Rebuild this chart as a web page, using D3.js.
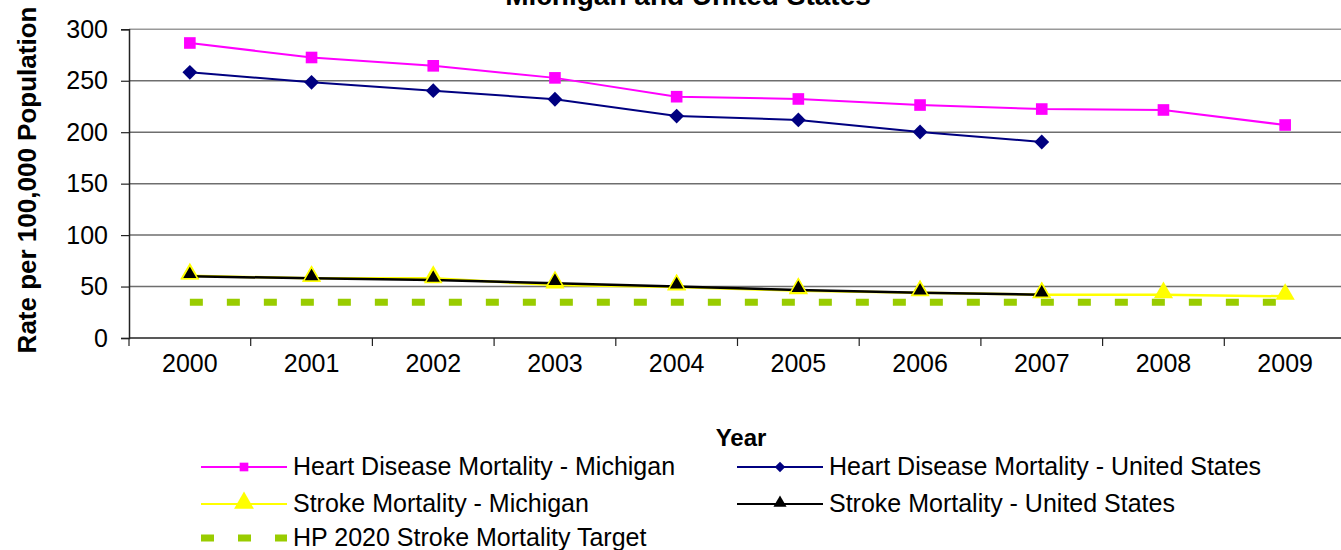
<!DOCTYPE html>
<html>
<head>
<meta charset="utf-8">
<script src="https://cdn.jsdelivr.net/npm/d3@7"></script>
<style>
  body { margin: 0; background: #fff; }
  svg { display: block; font-family: Arial, "Liberation Sans", sans-serif; }
</style>
</head>
<body>
<div id="main"></div>
<script>
// chart values
var years = ["2000", "2001", "2002", "2003", "2004", "2005", "2006", "2007", "2008", "2009"];
var heartMI = [286.7, 272.6, 264.5, 252.8, 234.5, 232.3, 226.4, 222.5, 221.6, 207.0];
var heartUS = [258.2, 248.5, 240.4, 232.0, 215.7, 211.9, 200.2, 190.5, null, null];
var strokeMI = [60.5, 58.0, 58.0, 51.5, 49.5, 46.0, 44.0, 42.1, 42.1, 40.5];
var strokeUS = [60.0, 58.0, 56.4, 53.3, 50.0, 46.6, 44.0, 42.1, null, null];
var target = [34.8, 34.8, 34.8, 34.8, 34.8, 34.8, 34.8, 34.8, 34.8, 34.8];
var yTicks = [0, 50, 100, 150, 200, 250, 300];

var W = 1341, H = 550;
var plotLeft = 129, plotTop = 29.3, plotBottom = 338, band = 121.7;

var svg = d3.select("#main")
  .append("svg")
    .attr("width", W)
    .attr("height", H);

var x = d3.scaleBand()
  .domain(years)
  .range([plotLeft, plotLeft + band * years.length]);

var y = d3.scaleLinear()
  .domain([0, 300])
  .range([plotBottom, plotTop]);

function cx(i) { return x(years[i]) + x.bandwidth() / 2; }

// gridlines
svg.append("g")
  .selectAll("line")
  .data(yTicks.filter(function(d) { return d > 0; }))
  .enter().append("line")
    .attr("x1", plotLeft).attr("x2", W)
    .attr("y1", function(d) { return y(d); })
    .attr("y2", function(d) { return y(d); })
    .attr("stroke", function(d) { return d == 300 ? "#999" : "#6e6e6e"; })
    .attr("stroke-width", 1.5);

// y axis
var yAxis = svg.append("g")
  .attr("transform", "translate(" + plotLeft + ",0)")
  .call(d3.axisLeft(y).tickValues(yTicks).tickSize(8).tickPadding(13));
yAxis.select(".domain").attr("stroke", "#222").attr("stroke-width", 1.5);
yAxis.selectAll(".tick line").attr("stroke", "#222").attr("stroke-width", 1.2);
yAxis.selectAll("text")
  .attr("font-size", 25)
  .attr("font-family", "Arial, 'Liberation Sans', sans-serif")
  .attr("fill", "#000");

// x axis
var xAxis = svg.append("g")
  .attr("transform", "translate(0," + plotBottom + ")")
  .call(d3.axisBottom(x).tickSize(0).tickPadding(16));
xAxis.select(".domain").remove();
xAxis.selectAll("text")
  .attr("font-size", 25)
  .attr("font-family", "Arial, 'Liberation Sans', sans-serif")
  .attr("fill", "#000");

svg.append("line")
  .attr("x1", plotLeft).attr("x2", W)
  .attr("y1", plotBottom).attr("y2", plotBottom)
  .attr("stroke", "#222").attr("stroke-width", 1.5);

svg.append("g")
  .selectAll("line")
  .data(years)
  .enter().append("line")
    .attr("x1", function(d) { return x(d); })
    .attr("x2", function(d) { return x(d); })
    .attr("y1", plotBottom).attr("y2", plotBottom + 8)
    .attr("stroke", "#222").attr("stroke-width", 1.2);

// series
var line = d3.line()
  .defined(function(d) { return d != null; })
  .x(function(d, i) { return cx(i); })
  .y(function(d) { return y(d); });

var sym = {
  square: d3.symbol().type(d3.symbolSquare),
  diamond: d3.symbol().type(d3.symbolDiamond2),
  triangle: d3.symbol().type(d3.symbolTriangle)
};

var series = [
  {name: "Heart Disease Mortality - Michigan", values: heartMI, color: "#ff00ff", width: 2, shape: "square", size: 135, legSize: 75},
  {name: "Heart Disease Mortality - United States", values: heartUS, color: "#000080", width: 2, shape: "diamond", size: 140, legSize: 70},
  {name: "Stroke Mortality - Michigan", values: strokeMI, color: "#ffff00", width: 2.5, shape: "triangle", size: 160, legSize: 170},
  {name: "Stroke Mortality - United States", values: strokeUS, color: "#000000", width: 2.5, shape: "triangle", size: 110, legSize: 75, outline: "#ffff00"}
];

// HP 2020 target dashes
svg.append("path")
  .datum(target)
  .attr("d", line)
  .attr("fill", "none")
  .attr("stroke", "#99cc00")
  .attr("stroke-width", 7)
  .attr("stroke-dasharray", "13,24");

series.forEach(function(s) {
  svg.append("path")
    .datum(s.values)
    .attr("d", line)
    .attr("fill", "none")
    .attr("stroke", s.color)
    .attr("stroke-width", s.width);

  svg.append("g")
    .selectAll("path")
    .data(s.values.map(function(v, i) { return {v: v, i: i}; }).filter(function(d) { return d.v != null; }))
    .enter().append("path")
      .attr("d", sym[s.shape].size(s.size))
      .attr("transform", function(d) {
        var dy = s.shape == "triangle" ? -2 : 0;
        return "translate(" + cx(d.i) + "," + (y(d.v) + dy) + ")";
      })
      .attr("fill", s.color)
      .attr("stroke", s.outline || "none")
      .attr("stroke-width", s.outline ? 1.5 : 0);
});

// title (top line is cut off by the frame)
svg.append("text")
  .attr("x", 688).attr("y", 5)
  .attr("text-anchor", "middle")
  .attr("font-size", 28).attr("font-weight", "bold")
  .text("Michigan and United States");

// axis titles
svg.append("text")
  .attr("transform", "translate(36,180)rotate(-90)")
  .attr("text-anchor", "middle")
  .attr("font-size", 26).attr("font-weight", "bold")
  .text("Rate per 100,000 Population");

svg.append("text")
  .attr("x", 741).attr("y", 446)
  .attr("text-anchor", "middle")
  .attr("font-size", 24).attr("font-weight", "bold")
  .text("Year");

// legend
var legItems = [
  {s: series[0], col: 0, row: 0},
  {s: series[1], col: 1, row: 0},
  {s: series[2], col: 0, row: 1},
  {s: series[3], col: 1, row: 1}
];
var colX = [201, 737], rowY = [467, 504, 538];

legItems.forEach(function(it) {
  var g = svg.append("g")
    .attr("transform", "translate(" + colX[it.col] + "," + rowY[it.row] + ")");
  g.append("line")
    .attr("x1", 0).attr("x2", 86)
    .attr("stroke", it.s.color).attr("stroke-width", 2);
  g.append("path")
    .attr("d", sym[it.s.shape].size(it.s.legSize))
    .attr("transform", "translate(43," + (it.s.shape == "triangle" ? -1 : 0) + ")")
    .attr("fill", it.s.color);
  g.append("text")
    .attr("x", 92).attr("y", 8)
    .attr("font-size", 25)
    .text(it.s.name);
});

var gT = svg.append("g")
  .attr("transform", "translate(" + colX[0] + "," + rowY[2] + ")");
gT.append("line")
  .attr("x1", 0).attr("x2", 86)
  .attr("stroke", "#99cc00").attr("stroke-width", 7)
  .attr("stroke-dasharray", "13,24");
gT.append("text")
  .attr("x", 92).attr("y", 8)
  .attr("font-size", 25)
  .text("HP 2020 Stroke Mortality Target");
</script>
</body>
</html>
